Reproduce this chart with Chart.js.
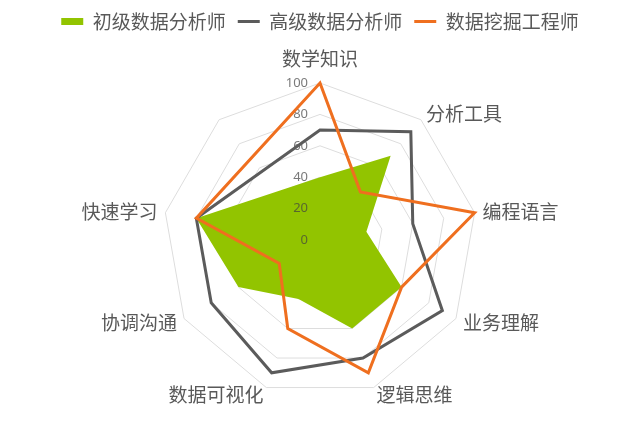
<!DOCTYPE html>
<html>
<head>
<meta charset="utf-8">
<script src="https://cdn.jsdelivr.net/npm/chart.js@4.4.0/dist/chart.umd.min.js"></script>
<style>
  html, body { margin: 0; padding: 0; background: #fff; }
  #wrap { width: 640px; height: 442px; }
</style>
</head>
<body>
<div id="wrap"><canvas id="radarChart"></canvas></div>
<script>
// 9 spokes in the original sheet, the last one has no name and no value
const skills = ["数学知识", "分析工具", "编程语言", "业务理解", "逻辑思维", "数据可视化", "协调沟通", "快速学习", ""];
const juniorAnalyst = [40, 70, 30, 60, 60, 40, 60, 80, null];
const seniorAnalyst = [70, 90, 60, 90, 80, 90, 80, 80, null];
const miningEngineer = [100, 40, 100, 60, 90, 60, 30, 80, null];
const tickValues = [0, 20, 40, 60, 80, 100];

const textGray = "#595959";
Chart.defaults.font.family = "'Noto Sans CJK SC', 'Noto Sans', sans-serif";

// tick numbers sit left of the vertical axis and over the green fill,
// spoke names are placed beside each outer corner
const radarText = {
    id: "radarText",
    afterDatasetDraw(chart, args) {
        if (args.index !== 0) return;
        const scale = chart.scales.r;
        const c = chart.ctx;
        c.save();
        c.font = "13px 'Noto Sans', sans-serif";
        c.fillStyle = "rgba(64, 64, 64, 0.7)";
        c.textAlign = "right";
        c.textBaseline = "middle";
        tickValues.forEach(v => {
            c.fillText(String(v), scale.xCenter - 12, scale.yCenter - scale.getDistanceFromCenterForValue(v));
        });
        c.restore();
    },
    afterDraw(chart) {
        const scale = chart.scales.r;
        const c = chart.ctx;
        c.save();
        c.font = "19px 'Noto Sans CJK SC'";
        c.fillStyle = textGray;
        c.textBaseline = "middle";
        skills.forEach((name, i) => {
            if (!name) return;
            const p = scale.getPointPosition(i, scale.drawingArea + 8);
            const s = Math.sin(scale.getIndexAngle(i));
            let y = p.y;
            if (Math.abs(s) < 0.05) {
                c.textAlign = "center";
                y -= 16;
            } else {
                c.textAlign = s > 0 ? "left" : "right";
            }
            c.fillText(name, p.x, y);
        });
        c.restore();
    }
};

const radarCtx = document.getElementById("radarChart").getContext("2d");
new Chart(radarCtx, {
    type: "radar",
    data: {
        labels: skills,
        datasets: [{
            label: "初级数据分析师",
            data: juniorAnalyst,
            backgroundColor: "#92c400",
            borderWidth: 0,
            fill: true,
            order: 3
        }, {
            label: "高级数据分析师",
            data: seniorAnalyst,
            borderColor: "#5b5b5b",
            borderWidth: 3,
            fill: false,
            order: 2
        }, {
            label: "数据挖掘工程师",
            data: miningEngineer,
            borderColor: "#ef6f1f",
            borderWidth: 3,
            fill: false,
            order: 1
        }]
    },
    options: {
        responsive: true,
        maintainAspectRatio: false,
        animation: false,
        spanGaps: true,
        layout: { padding: { bottom: 45 } },
        elements: {
            point: { radius: 0, hoverRadius: 0 },
            line: { tension: 0, borderJoinStyle: "miter" }
        },
        plugins: {
            tooltip: { enabled: false },
            legend: {
                position: "top",
                labels: {
                    usePointStyle: true,
                    pointStyleWidth: 22,
                    boxHeight: 7,
                    padding: 12,
                    color: textGray,
                    font: { size: 19 },
                    generateLabels(chart) {
                        return chart.data.datasets.map((ds, i) => ({
                            text: ds.label,
                            fillStyle: ds.fill ? ds.backgroundColor : ds.borderColor,
                            strokeStyle: ds.fill ? ds.backgroundColor : ds.borderColor,
                            lineWidth: ds.fill ? 0 : 3,
                            pointStyle: ds.fill ? "rect" : "line",
                            fontColor: textGray,
                            hidden: false,
                            datasetIndex: i
                        }));
                    }
                }
            },
            // empty subtitle used as a gap between the legend and the radar
            subtitle: {
                display: true,
                text: "",
                weight: 500,
                font: { size: 10 },
                padding: { top: 0, bottom: 30 }
            }
        },
        scales: {
            r: {
                min: 0,
                max: 100,
                ticks: { display: false, stepSize: 20 },
                grid: { color: "#dddddd", lineWidth: 1 },
                angleLines: { display: false },
                pointLabels: { display: false }
            }
        }
    },
    plugins: [radarText]
});
</script>
</body>
</html>
